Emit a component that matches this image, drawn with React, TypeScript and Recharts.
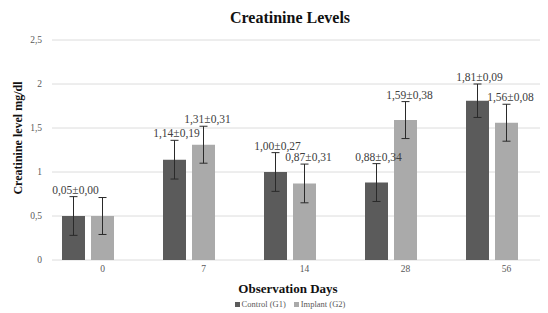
import React from "react";
import { BarChart, Bar, XAxis, YAxis, CartesianGrid, ErrorBar, LabelList } from "recharts";

const days = ["0", "7", "14", "28", "56"];
const controlMeans = [0.5, 1.14, 1.0, 0.88, 1.81];
const implantMeans = [0.5, 1.31, 0.87, 1.59, 1.56];
const controlErr = [0.22, 0.22, 0.22, 0.215, 0.19];
const implantErr = [0.21, 0.21, 0.22, 0.21, 0.21];
const controlLabels = ["0,05±0,00", "1,14±0,19", "1,00±0,27", "0,88±0,34", "1,81±0,09"];
const implantLabels = ["", "1,31±0,31", "0,87±0,31", "1,59±0,38", "1,56±0,08"];
const yTicks = [0, 0.5, 1, 1.5, 2, 2.5];

const series = [
  { key: "control", name: "Control (G1)", color: "#5b5b5b" },
  { key: "implant", name: "Implant (G2)", color: "#aaaaaa" },
];

const data = days.map((d, i) => ({
  day: d,
  control: controlMeans[i],
  implant: implantMeans[i],
  controlErr: controlErr[i],
  implantErr: implantErr[i],
}));

const serif = "Liberation Serif, Times New Roman, serif";

// label sits just above the top of the error bar
const makeLabel = (labels: string[], means: number[], errs: number[], dx: number) => (props: any) => {
  const { x, y, width, height, index } = props;
  const text = labels[index];
  if (!text) return null;
  const errPx = (errs[index] * height) / means[index];
  return (
    <text
      x={x + width / 2 + dx}
      y={y - errPx - 3}
      textAnchor="middle"
      fontSize={11.5}
      fontFamily={serif}
      fill="#404040"
    >
      {text}
    </text>
  );
};

export default function App() {
  return (
    <div style={{ marginLeft: -8, marginTop: -8, width: 548, height: 313, overflow: "hidden", position: "relative", background: "#fff" }}>
      <BarChart
        width={557}
        height={313}
        data={data}
        margin={{ top: 40, right: 0, bottom: 23, left: 0 }}
        barSize={23}
        barGap={6}
      >
        <CartesianGrid vertical={false} stroke="#dcdcdc" />
        <XAxis
          dataKey="day"
          axisLine={false}
          tickLine={false}
          tickSize={0}
          tickMargin={5}
          tick={{ fontSize: 9.5, fill: "#595959", fontFamily: serif }}
        />
        <YAxis
          width={52}
          domain={[0, 2.5]}
          ticks={yTicks}
          axisLine={false}
          tickLine={false}
          tickSize={0}
          tickMargin={10}
          tickFormatter={(v: number) => String(v).replace(".", ",")}
          tick={{ fontSize: 9.5, fill: "#595959", fontFamily: serif }}
        />
        <Bar dataKey="control" fill={series[0].color} isAnimationActive={false}>
          <ErrorBar dataKey="controlErr" width={4} stroke="#2a2a2a" strokeWidth={1} />
          <LabelList dataKey="control" content={makeLabel(controlLabels, controlMeans, controlErr, 2)} />
        </Bar>
        <Bar dataKey="implant" fill={series[1].color} isAnimationActive={false}>
          <ErrorBar dataKey="implantErr" width={4} stroke="#2a2a2a" strokeWidth={1} />
          <LabelList dataKey="implant" content={makeLabel(implantLabels, implantMeans, implantErr, 4)} />
        </Bar>
        {/* empty third slot, as in the original layout */}
        <Bar dataKey="spacer" legendType="none" isAnimationActive={false} />
      </BarChart>

      <div style={{ position: "absolute", left: 0, width: 580, top: 9, textAlign: "center", fontFamily: serif, fontWeight: "bold", fontSize: 16, color: "#111" }}>
        Creatinine Levels
      </div>
      <div style={{ position: "absolute", left: 0, width: 576, top: 281, textAlign: "center", fontFamily: serif, fontWeight: "bold", fontSize: 13, color: "#111" }}>
        Observation Days
      </div>
      <div
        style={{
          position: "absolute",
          left: 18,
          top: 138,
          transform: "translate(-50%, -50%) rotate(-90deg)",
          whiteSpace: "nowrap",
          fontFamily: serif,
          fontWeight: "bold",
          fontSize: 12,
          color: "#111",
        }}
      >
        Creatinine level mg/dl
      </div>
      <div style={{ position: "absolute", left: 0, width: 580, top: 299, display: "flex", justifyContent: "center", gap: 8, fontFamily: serif, fontSize: 8.5, color: "#595959" }}>
        {series.map((s) => (
          <span key={s.key} style={{ display: "flex", alignItems: "center" }}>
            <span style={{ display: "inline-block", width: 5, height: 5, background: s.color, marginRight: 2 }} />
            {s.name}
          </span>
        ))}
      </div>
    </div>
  );
}
